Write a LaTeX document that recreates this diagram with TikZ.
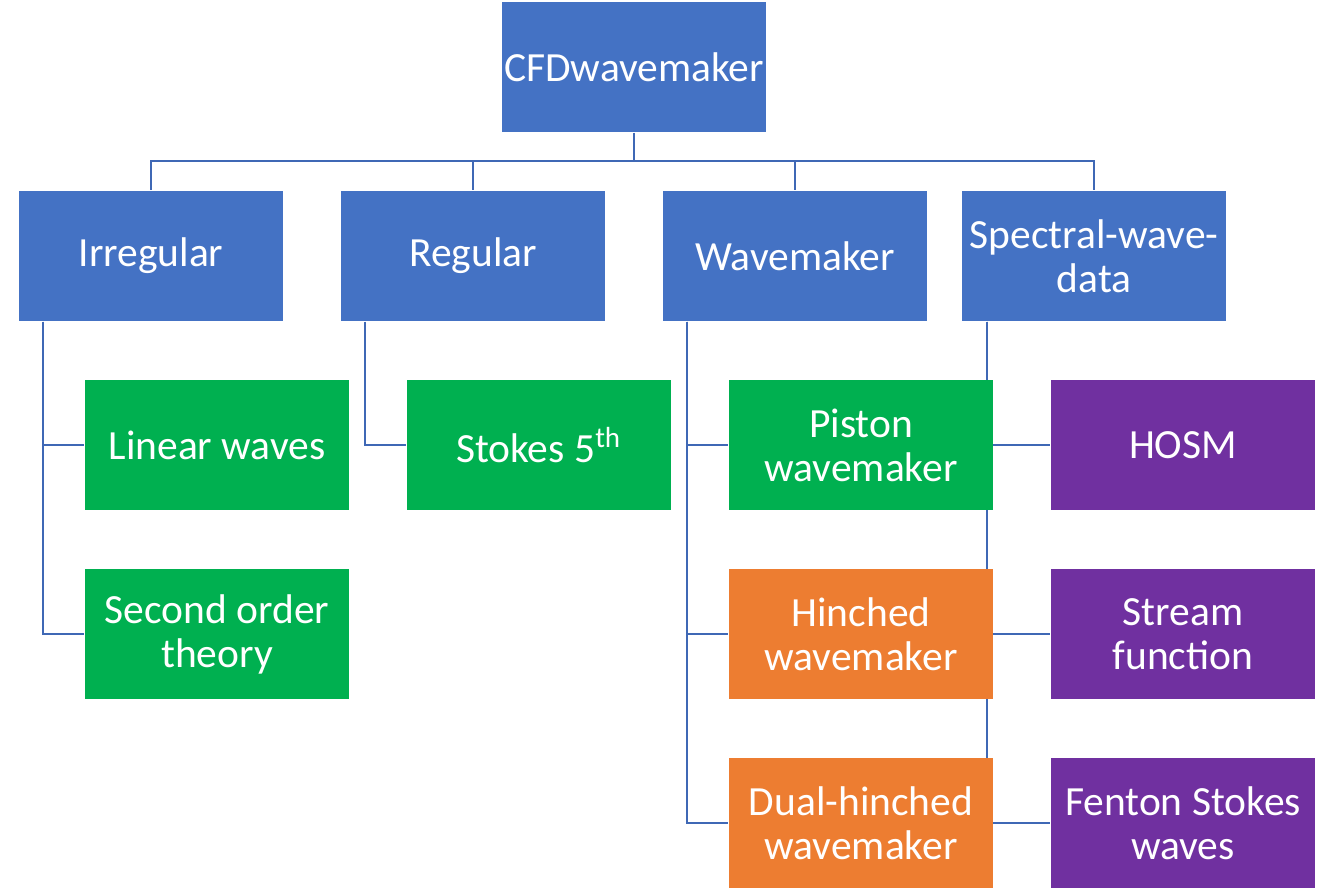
\documentclass[tikz,border=0pt]{standalone}
\usepackage{fontspec}
\setmainfont{Carlito}
\usepackage{tikz}
\usetikzlibrary{backgrounds}

\definecolor{boxblue}{HTML}{4472C4}
\definecolor{boxgreen}{HTML}{00B050}
\definecolor{boxorange}{HTML}{ED7D31}
\definecolor{boxpurple}{HTML}{7030A0}
\definecolor{linkblue}{HTML}{3F68B5}

\begin{document}
\begin{tikzpicture}[x=0.01cm, y=-0.01cm,
  box/.style={minimum width=2.64cm, minimum height=1.3cm, inner sep=0pt,
    text=white, align=center, font=\fontsize{11.8}{12.5}\selectfont},
  link/.style={draw=linkblue, line width=0.7pt}]
\useasboundingbox (0,0) rectangle (1337,895);
\node[box, fill=boxblue] (cfd) at (634,67) {CFDwavemaker};
\node[box, fill=boxblue] (irr) at (151,256) {Irregular};
\node[box, fill=boxblue] (reg) at (473,256) {Regular};
\node[box, fill=boxblue] (wm) at (795,256) {Wavemaker};
\node[box, fill=boxblue] (spec) at (1094,256) {Spectral-wave-\\data};
\node[box, fill=boxgreen] (lin) at (217,445) {Linear waves};
\node[box, fill=boxgreen] (sec) at (217,634) {Second order\\theory};
\node[box, fill=boxgreen] (stokes) at (539,445) {Stokes 5\textsuperscript{th}};
\node[box, fill=boxgreen] (piston) at (861,445) {Piston\\wavemaker};
\node[box, fill=boxorange] (hinch) at (861,634) {Hinched\\wavemaker};
\node[box, fill=boxorange] (dual) at (861,823) {Dual-hinched\\wavemaker};
\node[box, fill=boxpurple] (hosm) at (1183,445) {HOSM};
\node[box, fill=boxpurple] (stream) at (1183,634) {Stream\\function};
\node[box, fill=boxpurple] (fenton) at (1183,823) {Fenton Stokes\\waves};
\coordinate (hub) at (634,161);
\begin{scope}[on background layer]
\draw[link] (cfd.south) -- (hub) -| (irr.north);
\draw[link] (hub) -| (reg.north);
\draw[link] (hub) -| (wm.north);
\draw[link] (hub) -| (spec.north);
\draw[link] ([xshift=0.25cm]irr.south west) |- (lin.west);
\draw[link] ([xshift=0.25cm]irr.south west) |- (sec.west);
\draw[link] ([xshift=0.25cm]reg.south west) |- (stokes.west);
\draw[link] ([xshift=0.25cm]wm.south west) |- (piston.west);
\draw[link] ([xshift=0.25cm]wm.south west) |- (hinch.west);
\draw[link] ([xshift=0.25cm]wm.south west) |- (dual.west);
\draw[link] ([xshift=0.26cm]spec.south west) |- (hosm.west);
\draw[link] ([xshift=0.26cm]spec.south west) |- (stream.west);
\draw[link] ([xshift=0.26cm]spec.south west) |- (fenton.west);
\end{scope}
\end{tikzpicture}
\end{document}
